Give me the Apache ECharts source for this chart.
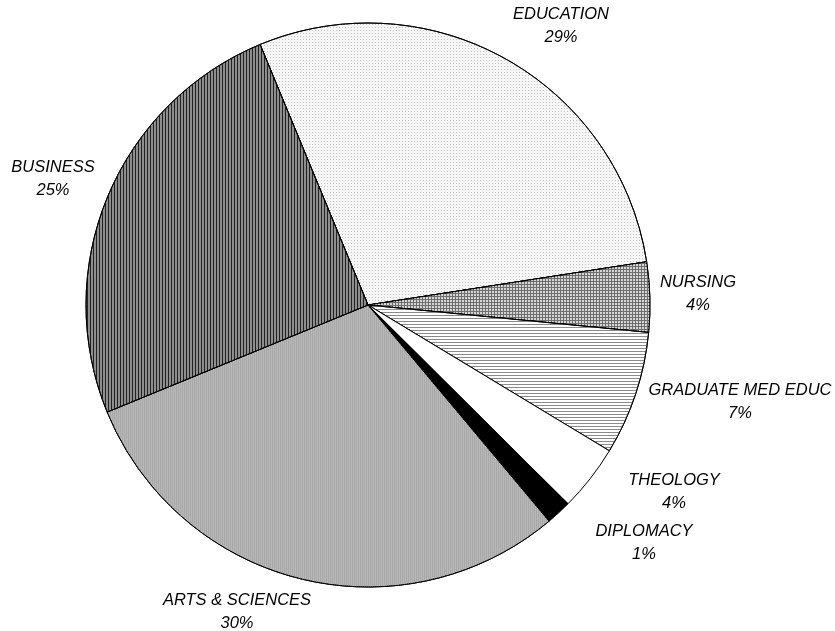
<!DOCTYPE html>
<html>
<head>
<meta charset="utf-8">
<script src="https://cdn.jsdelivr.net/npm/echarts@6/dist/echarts.min.js"></script>
<style>
html,body{margin:0;padding:0;background:#fff;}
#chart{width:835px;height:631px;}
</style>
</head>
<body>
<div id="chart"></div>
<script>
// ---- data ----
var categories = ['EDUCATION', 'NURSING', 'GRADUATE MED EDUC', 'THEOLOGY', 'DIPLOMACY', 'ARTS & SCIENCES', 'BUSINESS'];
var shares = [28.8, 4.0, 7.1, 3.8, 1.45, 29.9, 24.95];

// ---- styling (not data) ----
var labelAnchors = [[561, 26], [698, 294], [740, 402], [674, 492], [644, 543], [237, 612], [53, 179]];
var fills = [
  { color: '#f6f6f6', decal: { symbol: 'rect', color: '#c4c4c4', dashArrayX: [1, 2], dashArrayY: [1, 2], symbolSize: 1 } },
  { color: '#6e6e6e', decal: { symbol: 'rect', color: '#d6d6d6', dashArrayX: [2, 1], dashArrayY: [2, 1], symbolSize: 1 } },
  { color: '#ffffff', decal: { symbol: 'rect', color: '#8a8a8a', dashArrayX: [1, 0], dashArrayY: [1, 2], symbolSize: 1 } },
  { color: '#ffffff' },
  { color: '#000000' },
  { color: '#b8b8b8', decal: { symbol: 'rect', color: '#a8a8a8', dashArrayX: [1, 1], dashArrayY: [1, 0], symbolSize: 1 } },
  { color: '#8e8e8e', decal: { symbol: 'rect', color: '#222222', dashArrayX: [1, 2], dashArrayY: [1, 0], symbolSize: 1 } }
];

var seriesData = categories.map(function (name, i) {
  var f = fills[i];
  var style = { color: f.color, borderColor: '#000', borderWidth: 1 };
  if (f.decal) style.decal = f.decal;
  return { name: name, value: shares[i], itemStyle: style };
});

var chart = echarts.init(document.getElementById('chart'), null, { renderer: 'canvas' });
chart.setOption({
  backgroundColor: '#ffffff',
  animation: false,
  series: [{
    type: 'pie',
    center: [368, 305],
    radius: 282,
    startAngle: 112.5,
    clockwise: true,
    avoidLabelOverlap: false,
    data: seriesData,
    label: {
      show: true,
      position: 'outside',
      formatter: function (p) { return p.name + '\n' + Math.round(p.percent) + '%'; },
      fontFamily: 'Liberation Sans, Arial, sans-serif',
      fontStyle: 'italic',
      fontSize: 16.5,
      lineHeight: 23,
      color: '#000',
      align: 'center'
    },
    labelLine: { show: false },
    labelLayout: function (params) {
      var a = labelAnchors[params.dataIndex];
      return { x: a[0], y: a[1], align: 'center', verticalAlign: 'middle', hideOverlap: false };
    },
    emphasis: { disabled: true }
  }]
});
</script>
</body>
</html>
